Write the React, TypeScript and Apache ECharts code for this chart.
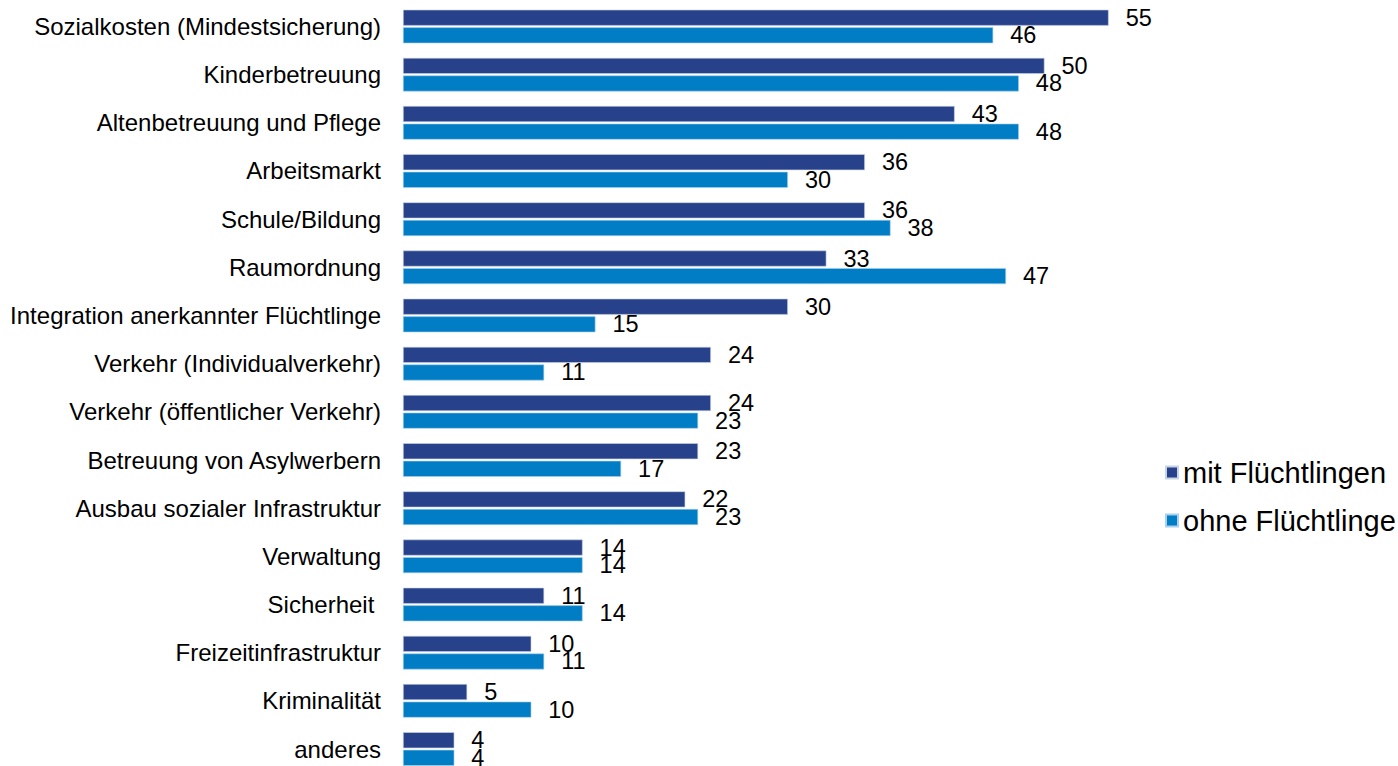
import React, { useEffect, useRef } from "react";
import * as echarts from "echarts";

const categories = [
  "Sozialkosten (Mindestsicherung)",
  "Kinderbetreuung",
  "Altenbetreuung und Pflege",
  "Arbeitsmarkt",
  "Schule/Bildung",
  "Raumordnung",
  "Integration anerkannter Flüchtlinge",
  "Verkehr (Individualverkehr)",
  "Verkehr (öffentlicher Verkehr)",
  "Betreuung von Asylwerbern",
  "Ausbau sozialer Infrastruktur",
  "Verwaltung",
  "Sicherheit ",
  "Freizeitinfrastruktur",
  "Kriminalität",
  "anderes",
];

const seriesNames = ["mit Flüchtlingen", "ohne Flüchtlinge"];
const mitValues = [55, 50, 43, 36, 36, 33, 30, 24, 24, 23, 22, 14, 11, 10, 5, 4];
const ohneValues = [46, 48, 48, 30, 38, 47, 15, 11, 23, 17, 23, 14, 14, 11, 10, 4];

const FONT = "'Liberation Sans', Arial, Helvetica, sans-serif";

export default function App() {
  const ref = useRef<HTMLDivElement>(null);

  useEffect(() => {
    if (!ref.current) return;
    const chart = echarts.init(ref.current, undefined, { renderer: "svg" });
    const labelCfg = {
      show: true,
      position: "right" as const,
      distance: 17,
      color: "#000",
      fontFamily: FONT,
      fontSize: 23.5,
    };
    chart.setOption({
      animation: false,
      backgroundColor: "#fff",
      textStyle: { fontFamily: FONT },
      grid: {
        left: 403,
        top: 2.4,
        width: 769.8,
        height: 770.7,
        containLabel: false,
        outerBoundsMode: "none",
      },
      xAxis: {
        type: "value",
        min: 0,
        max: 60,
        show: false,
        splitLine: { show: false },
      },
      yAxis: {
        type: "category",
        data: categories,
        inverse: true,
        axisLine: { show: false },
        axisTick: { show: false },
        axisLabel: {
          color: "#000",
          fontFamily: FONT,
          fontSize: 24,
          margin: 22,
        },
      },
      legend: {
        orient: "vertical",
        left: 1160,
        top: 452,
        itemWidth: 12,
        itemHeight: 12,
        itemGap: 17,
        icon: "rect",
        textStyle: { color: "#000", fontFamily: FONT, fontSize: 29, lineHeight: 31 },
        data: seriesNames,
      },
      series: [
        {
          name: seriesNames[0],
          type: "bar",
          data: mitValues,
          barWidth: 16,
          barGap: "10%",
          itemStyle: { color: "#27418A", borderColor: "#c9d3e6", borderWidth: 0.6 },
          label: labelCfg,
        },
        {
          name: seriesNames[1],
          type: "bar",
          data: ohneValues,
          barWidth: 16,
          barGap: "10%",
          itemStyle: { color: "#007DC4", borderColor: "#a9d0ec", borderWidth: 0.6 },
          label: labelCfg,
        },
      ],
    });
    return () => chart.dispose();
  }, []);

  return (
    <div
      ref={ref}
      style={{ position: "fixed", left: 0, top: 0, width: 1398, height: 766, background: "#fff" }}
    />
  );
}
